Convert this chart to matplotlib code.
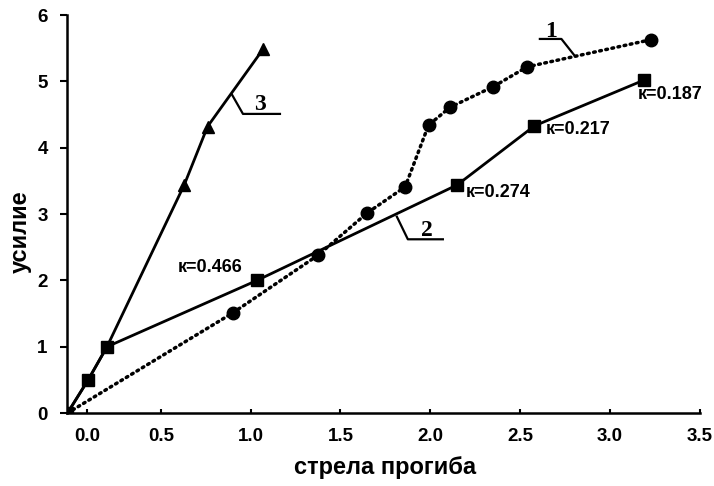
import matplotlib
matplotlib.use("Agg")
import matplotlib.pyplot as plt

plt.rcParams['font.family'] = ['Liberation Sans', 'DejaVu Sans']
plt.rcParams['font.weight'] = 'bold'

# Series 1 (dotted, circles)
s1_x = [-0.02, 0.90, 1.375, 1.65, 1.86, 1.99, 2.11, 2.35, 2.54, 3.23]
s1_y = [0.0, 1.51, 2.38, 3.02, 3.41, 4.34, 4.61, 4.92, 5.22, 5.63]
# Series 2 (solid, squares)
s2_x = [-0.02, 0.095, 0.20, 1.035, 2.15, 2.58, 3.19]
s2_y = [0.0, 0.50, 1.00, 2.00, 3.44, 4.33, 5.02]
# Series 3 (solid, triangles) - shares the first points with series 2
s3_x = [-0.02, 0.095, 0.20, 0.63, 0.76, 1.07]
s3_y = [0.0, 0.50, 1.00, 3.44, 4.32, 5.49]

k_labels = ["к=0.466", "к=0.274", "к=0.217", "к=0.187"]
k_points = [3, 4, 5, 6]  # indices into series 2

xtick_vals = [0.09, 0.5, 1.0, 1.5, 2.0, 2.5, 3.0, 3.5]
xtick_labels = ["0.0", "0.5", "1.0", "1.5", "2.0", "2.5", "3.0", "3.5"]
ytick_vals = [0, 1, 2, 3, 4, 5, 6]

fig = plt.figure(figsize=(7.14, 4.86), dpi=100)
ax = fig.add_axes([0.094, 0.150, 0.886, 0.819])

ax.plot(s1_x, s1_y, color='black', lw=2.5, linestyle=(0, (0.5, 1.3)),
        dash_capstyle='round', marker='o', markersize=9,
        markevery=slice(1, None), zorder=3)
ax.plot(s2_x, s2_y, color='black', lw=2.0, marker='s', markersize=9, zorder=4)
ax.plot(s3_x, s3_y, color='black', lw=2.0, marker='^', markersize=8.5,
        markevery=slice(3, None), zorder=3)

ax.set_xlim(-0.022, 3.5)
ax.set_ylim(0, 6)
ax.set_xticks(xtick_vals)
ax.set_xticklabels(xtick_labels)
ax.set_yticks(ytick_vals)
for s in ['top', 'right']:
    ax.spines[s].set_visible(False)
for s in ['left', 'bottom']:
    ax.spines[s].set_linewidth(1.8)
ax.tick_params(axis='x', direction='in', length=3, width=1.5, pad=11, labelsize=13.5)
ax.tick_params(axis='y', direction='out', length=5, width=1.5, pad=9, labelsize=13.5)
for lab in ax.get_xticklabels() + ax.get_yticklabels():
    lab.set_fontweight('bold')

ax.set_xlabel("стрела прогиба", fontsize=17, fontweight='bold')
ax.set_ylabel("усилие", fontsize=17, fontweight='bold')
ax.xaxis.set_label_coords(0.503, -0.108)
ax.yaxis.set_label_coords(-0.056, 0.457)

# k annotations
offs = [(-0.44, 0.19), (0.05, -0.12), (0.06, -0.06), (-0.035, -0.22)]
for lab, i, (dx, dy) in zip(k_labels, k_points, offs):
    ax.text(s2_x[i] + dx, s2_y[i] + dy, lab, fontsize=13, fontweight='bold',
            ha='left', va='center')

# curve number leaders
def leader(pts, label, tx, ty):
    xs = [p[0] for p in pts]
    ys = [p[1] for p in pts]
    ax.plot(xs, ys, color='black', lw=1.6, zorder=2)
    ax.text(tx, ty, label, fontsize=17, fontweight='bold', ha='center', va='bottom',
            family=['Liberation Serif', 'DejaVu Serif'])

leader([(2.80, 5.40), (2.73, 5.64), (2.61, 5.64)], "1", 2.67, 5.60)
leader([(1.814, 2.96), (1.875, 2.62), (2.07, 2.62)], "2", 1.98, 2.60)
leader([(0.896, 4.80), (0.957, 4.51), (1.163, 4.51)], "3", 1.05, 4.49)

fig.savefig("out.png", dpi=100)
